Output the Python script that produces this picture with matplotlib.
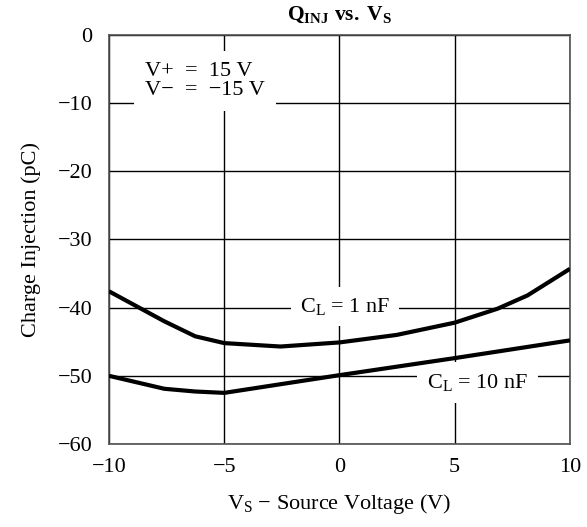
import matplotlib
matplotlib.use("Agg")
import matplotlib.pyplot as plt

plt.rcParams['font.family'] = ['Liberation Serif', 'DejaVu Serif']
plt.rcParams['mathtext.fontset'] = 'custom'
plt.rcParams['mathtext.rm'] = 'Liberation Serif'
plt.rcParams['mathtext.bf'] = 'Liberation Serif:bold'
plt.rcParams['mathtext.it'] = 'Liberation Serif:italic'

vs_1nf = [-10, -7.6, -6.26, -5, -2.56, 0, 2.48, 5, 6.86, 8.16, 10]
q_1nf = [-37.6, -42.0, -44.2, -45.2, -45.7, -45.1, -44.0, -42.2, -40.15, -38.2, -34.3]
vs_10nf = [-10, -7.6, -6.26, -5, 0, 5, 10]
q_10nf = [-50.0, -51.9, -52.3, -52.5, -49.9, -47.4, -44.8]

xticks = [-10, -5, 0, 5, 10]
yticks = [0, -10, -20, -30, -40, -50, -60]

FS = 16

fig = plt.figure(figsize=(5.87, 5.27), dpi=100)
ax = fig.add_axes([0.1857, 0.1575, 0.7853, 0.7761])
ax.set_xlim(-10, 10)
ax.set_ylim(-60, 0)
ax.set_xticks(xticks)
ax.set_yticks(yticks)
ax.set_xticklabels([str(t).replace('-', '\u2212') for t in xticks])
ax.set_yticklabels([str(t).replace('-', '\u2212') for t in yticks])
ax.tick_params(length=0, labelsize=FS, colors='black')
ax.tick_params(axis='y', pad=12)
ax.tick_params(axis='x', pad=10)
ax.grid(True, color='black', linewidth=1.0)
ax.set_axisbelow(True)
for s in ax.spines.values():
    s.set_color('#505050')
    s.set_linewidth(1.2)

ax.plot(vs_1nf, q_1nf, color='black', linewidth=3.0, solid_capstyle='butt', zorder=3)
ax.plot(vs_10nf, q_10nf, color='black', linewidth=3.0, solid_capstyle='butt', zorder=3)

ax.text(-8.44, -6.7, 'V+  =  15 V\nV\u2212  =  \u221215 V', fontsize=FS, ha='left', va='center',
        linespacing=1.0, bbox=dict(boxstyle='square,pad=0.5', facecolor='white', edgecolor='none'), zorder=2)
ax.text(0.25, -39.8, r'C$_\mathrm{L}$ = 1 nF', fontsize=FS, ha='center', va='center',
        bbox=dict(boxstyle='square,pad=0.4', facecolor='white', edgecolor='none'), zorder=2)
ax.text(6.0, -51.0, r'C$_\mathrm{L}$ = 10 nF', fontsize=FS, ha='center', va='center',
        bbox=dict(boxstyle='square,pad=0.45', facecolor='white', edgecolor='none'), zorder=2)

ax.set_title(r'$\mathbf{Q_{INJ}}$ $\mathbf{vs.}$ $\mathbf{V_S}$', fontsize=15.5, pad=11)
ax.set_xlabel(r'V$_\mathrm{S}$ $-$ Source Voltage (V)', fontsize=FS, labelpad=11)
ax.set_ylabel('Charge Injection (pC)', fontsize=FS, labelpad=12)

fig.savefig('out.png', dpi=100)
